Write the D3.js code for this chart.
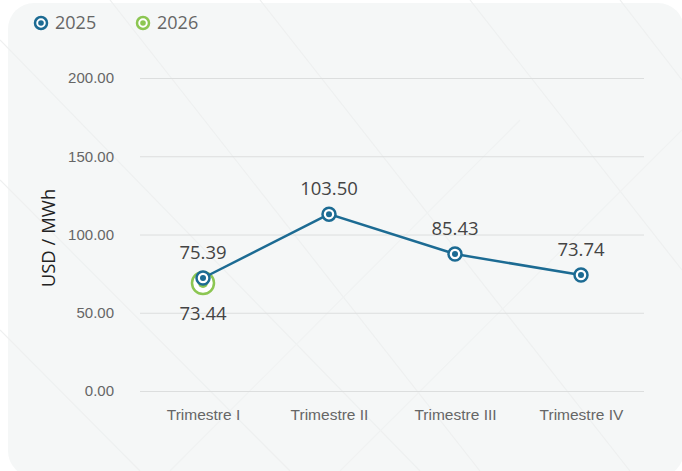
<!DOCTYPE html>
<html>
<head>
<meta charset="utf-8">
<script src="https://cdn.jsdelivr.net/npm/d3@7"></script>
<style>
  body { margin: 0; background: #fff; }
  svg { display: block; font-family: "Open Sans", "Inter", sans-serif; }
</style>
</head>
<body>
<svg id="chart" width="682" height="471"></svg>
<script>
const categories = ["Trimestre I", "Trimestre II", "Trimestre III", "Trimestre IV"];
// positions, labels as printed
const values2025 = [72.2, 113.0, 87.5, 74.1];
const labels2025 = ["75.39", "103.50", "85.43", "73.74"];
const values2026 = [69.0];
const labels2026 = ["73.44"];
const yTicks = [0, 50, 100, 150, 200];

const blue = "#1c6b93";
const green = "#8cc652";

const svg = d3.select("#chart");
const attr_area = { left: 140, right: 644, top: 78, bottom: 391 };

// card
svg.append("rect")
    .attr("x", 8).attr("y", 3)
    .attr("width", 676).attr("height", 474)
    .attr("rx", 26)
    .style("fill", "#f5f7f7");

// faint decorative diagonals
const deco = svg.append("g").style("stroke", "#eef0f0").style("stroke-width", 1.2);
[[110, 0, 480, 471], [260, 0, 630, 471], [470, 0, 682, 270], [620, 0, 682, 80],
 [0, 180, 290, 471], [0, 330, 140, 471], [0, 40, 420, 471]].forEach(l => {
    deco.append("line").attr("x1", l[0]).attr("y1", l[1]).attr("x2", l[2]).attr("y2", l[3]);
});
[[340, 471, 682, 130], [170, 471, 520, 120]].forEach(l => {
    deco.append("line").attr("x1", l[0]).attr("y1", l[1]).attr("x2", l[2]).attr("y2", l[3])
        .style("stroke", "#f0f2f2");
});

const scaleX = d3.scalePoint()
    .domain(categories)
    .range([attr_area.left, attr_area.right])
    .padding(0.5);

const scaleY = d3.scaleLinear()
    .domain([0, 200])
    .range([attr_area.bottom, attr_area.top]);

// grid + y labels
const axisY = d3.axisLeft(scaleY)
    .tickValues(yTicks)
    .tickFormat(d3.format(".2f"))
    .tickSize(-(attr_area.right - attr_area.left))
    .tickPadding(26);

const gY = svg.append("g")
    .attr("transform", `translate(${attr_area.left}, 0)`)
    .call(axisY);
gY.select(".domain").remove();
gY.selectAll("line").style("stroke", "#dcdede");
gY.selectAll("text").style("fill", "#666").style("font-size", "15px");

// x labels
const axisX = d3.axisBottom(scaleX).tickSize(0).tickPadding(18);
const gX = svg.append("g")
    .attr("transform", `translate(0, ${attr_area.bottom})`)
    .call(axisX);
gX.select(".domain").remove();
gX.selectAll("text").style("fill", "#666").style("font-size", "15.5px");

// y title
svg.append("text")
    .attr("transform", "translate(55, 238) rotate(-90)")
    .attr("text-anchor", "middle")
    .style("font-size", "18.5px")
    .style("fill", "#222")
    .text("USD / MWh");

// 2026 marker
values2026.forEach((v, i) => {
    const x = scaleX(categories[i]), y = scaleY(v);
    svg.append("circle").attr("cx", x).attr("cy", y).attr("r", 11)
        .style("fill", "#fff").style("stroke", green).style("stroke-width", 2.5);
    svg.append("circle").attr("cx", x).attr("cy", y).attr("r", 5).style("fill", green);
    svg.append("text")
        .attr("x", x).attr("y", y + 37)
        .attr("text-anchor", "middle")
        .style("font-size", "18.5px").style("fill", "#444")
        .text(labels2026[i]);
});

// 2025 line
const line = d3.line()
    .x((d, i) => scaleX(categories[i]))
    .y(d => scaleY(d));

svg.append("path")
    .datum(values2025)
    .attr("fill", "none")
    .attr("stroke", blue)
    .attr("stroke-width", 2.5)
    .attr("d", line);

values2025.forEach((v, i) => {
    const x = scaleX(categories[i]), y = scaleY(v);
    svg.append("circle").attr("cx", x).attr("cy", y).attr("r", 6.5)
        .style("fill", "#fff").style("stroke", blue).style("stroke-width", 2.5);
    svg.append("circle").attr("cx", x).attr("cy", y).attr("r", 3).style("fill", blue);
    svg.append("text")
        .attr("x", x).attr("y", y - 19)
        .attr("text-anchor", "middle")
        .style("font-size", "18.5px").style("fill", "#444")
        .text(labels2025[i]);
});

// legend
const legend = [{ name: "2025", color: blue, x: 41 }, { name: "2026", color: green, x: 143 }];
legend.forEach(l => {
    svg.append("circle").attr("cx", l.x).attr("cy", 23).attr("r", 6)
        .style("fill", "#fff").style("stroke", l.color).style("stroke-width", 2.5);
    svg.append("circle").attr("cx", l.x).attr("cy", 23).attr("r", 2.8).style("fill", l.color);
    svg.append("text")
        .attr("x", l.x + 14).attr("y", 29)
        .style("font-size", "18px").style("fill", "#666")
        .text(l.name);
});
</script>
</body>
</html>
